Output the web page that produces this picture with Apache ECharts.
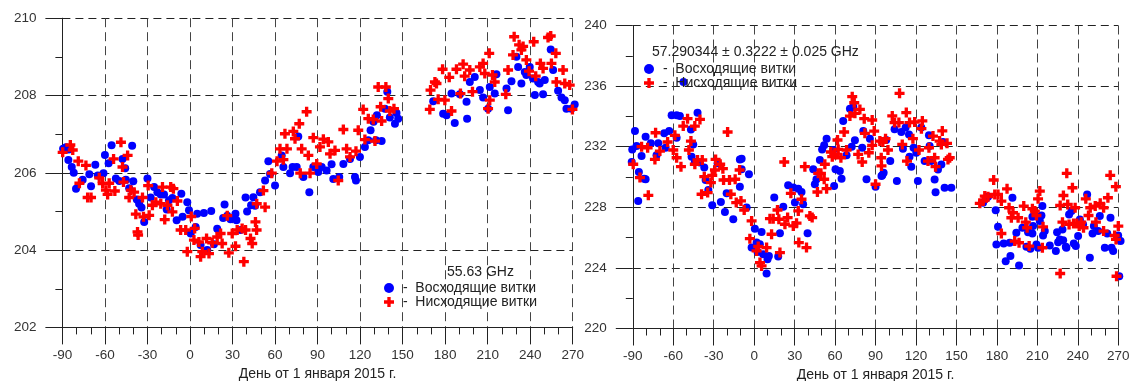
<!DOCTYPE html>
<html>
<head>
<meta charset="utf-8">
<script src="https://cdn.jsdelivr.net/npm/echarts@6/dist/echarts.min.js"></script>
<style>
html,body{margin:0;padding:0;background:#fff;}
#c{width:1131px;height:381px;}
</style>
</head>
<body>
<div id="c"></div>
<script>
// ---------- data ----------
const xTicks = { min: -90, max: 270, interval: 30 };
const leftY = { min: 202, max: 210, interval: 2 };
const rightY = { min: 220, max: 240, interval: 4 };

const nameUp = 'Восходящие витки';
const nameDown = 'Нисходящие витки';
const leftTitle = '55.63 GHz';
const rightTitle = '57.290344 ± 0.3222 ± 0.025 GHz';
const xName = 'День от 1 января 2015 г.';

// Left panel, ascending (blue)
const leftUp = [
[-89.5,206.62],[-87.5,206.66],[-85.5,206.6],[-85.8,206.33],[-83.4,206.15],[-82,206.0],[-80.4,205.59],[-75.7,205.82],[-71,205.96],[-69.8,205.65],
[-66.8,206.21],[-65,205.93],[-61,205.99],[-60,206.46],[-57.4,206.25],[-55.3,206.71],[-47.6,206.36],[-45.7,206.12],[-40.8,206.7],[-52.3,205.85],
[-49.9,205.79],[-45.2,205.82],[-40,205.78],[-42.9,205.6],[-37.5,205.31],[-35.9,205.2],[-34.2,205.1],[-32.3,204.73],[-30,205.85],[-27.7,205.36],
[-25.3,205.63],[-23,205.5],[-20.6,205.44],[-18.3,205.44],[-16.4,205.05],[-14.8,205.29],[-12.4,205.35],[-9.4,204.77],[-6.1,205.46],[-5.2,204.86],
[-1.9,205.24],[-0.7,205.03],[0.5,204.43],[4,204.6],[5.1,204.94],[7.5,204.13],[9.8,204.96],[12.2,204.0],[15,205.01],[16.9,204.15],
[19.2,204.55],[23.4,204.83],[24.4,205.18],[26.3,204.89],[28.6,204.8],[32.1,204.94],[32.8,204.77],[35.6,204.52],[39.2,205.36],[40.3,205.0],
[43.1,205.16],[44.7,205.37],[45.9,205.15],[49.4,205.5],[53,205.8],[55.3,206.3],[56.5,205.97],[60,205.67],[64.7,206.45],[65.9,206.15],
[70.6,205.99],[72.4,206.15],[75.3,206.15],[76.4,206.94],[80,205.89],[84.2,205.5],[87,206.15],[90.5,206.02],[92.9,206.15],[96.4,206.06],
[99.9,206.22],[101.1,205.84],[105.3,205.89],[108.2,206.23],[112.9,206.36],[116.4,205.89],[117.1,205.8],[119.9,206.41],[123.4,206.67],[125.8,206.84],
[127.4,207.1],[131.2,206.84],[135.2,206.82],[129.5,207.32],[131.9,207.49],[137.5,207.66],[139.2,208.1],[141,207.43],[144.6,207.27],[146.9,207.4],
[145.7,207.55],[171.6,207.85],[178.6,207.53],[181,207.49],[184.5,208.05],[186.8,207.29],[190.4,208.03],[195.1,207.84],[195.5,207.4],[197.4,208.35],
[200.9,208.48],[204.5,208.14],[206.8,207.95],[210.3,207.66],[211.5,208.22],[215,208.05],[216.2,208.55],[223.3,208.18],[224.4,207.62],[226.8,208.37],
[230.3,209.0],[231.5,208.74],[233.8,208.31],[236.2,208.61],[237.3,208.53],[239.7,208.74],[242,208.44],[243.3,208.01],[245.6,208.35],[246.7,208.31],
[249.1,208.03],[250.3,208.4],[254.5,209.19],[256.2,208.66],[259.7,208.12],[262.1,207.95],[264.4,207.88],[265.6,207.66],[269.1,207.66],[271.4,207.77]
];

// Left panel, descending (red)
const leftDown = [
[-89.8,206.53],[-84.4,206.72],[-82.7,206.59],[-78.8,206.3],[-73.4,206.19],[-78,205.73],[-72.2,205.36],[-69.8,205.36],[-64,205.87],[-61.6,205.72],
[-59.3,205.55],[-58.1,205.44],[-57,205.73],[-53,205.53],[-53.9,206.36],[-48.7,206.79],[-47.6,206.15],[-44,206.45],[-46.9,205.76],[-42.9,205.36],
[-41.7,205.55],[-39.4,205.5],[-38.2,204.93],[-37,204.47],[-36.6,204.39],[-33.5,205.36],[-32.8,204.86],[-28.8,204.9],[-29.5,205.67],[-26.5,205.16],
[-24.1,205.24],[-20.6,205.2],[-19.4,205.63],[-17.8,204.79],[-15.9,205.16],[-13.6,205.63],[-11.7,205.59],[-12.4,204.99],[-8.9,205.27],[-6.6,204.52],
[-3,204.52],[-1.9,203.96],[0.9,204.87],[3.3,204.56],[2.8,204.26],[7.5,203.83],[6.3,204.21],[8.7,203.96],[11.7,204.3],[13.4,203.91],
[15.7,204.19],[19.2,204.34],[21.6,204.43],[22.7,204.17],[26.3,204.89],[27.4,203.93],[29.8,204.43],[32.1,204.1],[33.3,204.52],[36.8,204.56],
[38,203.7],[39.2,204.52],[42.7,204.3],[43.9,204.17],[46.2,204.73],[47,204.52],[47.1,205.2],[51.8,205.54],[53,205.11],[57.7,205.99],
[61.4,206.3],[63.5,206.62],[65.9,206.34],[67,207.01],[68.4,206.62],[72.9,207.07],[77.1,207.27],[77.8,205.99],[82.3,207.58],[74.1,206.88],
[78.8,206.62],[83.5,206.45],[84.7,205.99],[87,206.91],[89.4,206.23],[91.7,206.67],[94.1,206.87],[97.6,206.8],[98.8,206.49],[102.3,206.58],
[104.6,205.8],[108.2,207.12],[110.5,206.62],[112.9,206.41],[117.1,206.56],[118.7,207.1],[122.2,207.64],[123.4,206.86],[125.8,207.4],[129.3,207.38],
[130.5,206.82],[132.8,208.22],[135.2,207.34],[134.5,207.71],[138.2,208.22],[139.9,207.92],[141,207.6],[143.9,207.66],[169.2,207.64],[169.7,208.14],
[172.8,208.35],[173.9,208.31],[175.1,207.9],[178.2,208.68],[179.8,207.88],[182.9,208.47],[184.5,207.6],[188,208.68],[190.8,208.05],[192.7,208.81],
[193.8,208.5],[197.4,208.66],[199.3,208.1],[204.5,208.74],[206.8,208.83],[208,208.57],[211.1,209.09],[210.3,207.66],[211.5,207.88],[213.4,208.53],
[215,208.35],[222.8,208.03],[224.4,208.66],[227.9,209.05],[228.7,209.52],[232.2,209.31],[233.8,209.18],[235,209.27],[237.3,208.92],[239.2,208.63],
[242.5,209.39],[243.9,208.5],[247.2,208.83],[249.1,208.7],[252.6,209.5],[254.5,209.54],[255,208.83],[258.1,209.09],[258.5,208.35],[263.2,208.66],
[264.4,208.31],[267.9,208.27],[269.8,207.64]
];

// Right panel, ascending (blue)
const rightUp = [
[-90.8,230.99],[-90.4,231.82],[-88.4,233.03],[-87.2,232.04],[-86,228.42],[-85.5,230.33],[-83.5,231.38],[-81.5,229.89],[-80.5,229.85],[-80.5,232.66],
[-76.6,232.22],[-72.4,231.43],[-71.1,232.22],[-66.7,232.88],[-65.7,231.93],[-63,233.03],[-61.2,234.07],[-57.5,234.07],[-55.1,234.02],[-57.5,232.59],
[-52.4,236.27],[-46.9,233.14],[-45.2,232.15],[-42,234.24],[-46.4,231.34],[-44,230.99],[-40.2,230.95],[-37,230.62],[-36,229.8],[-34,229.14],
[-31.1,228.13],[-27.1,230.9],[-24.7,228.35],[-21.7,227.69],[-20.4,228.92],[-15.5,227.21],[-10.6,231.16],[-9.3,231.21],[-10.6,229.36],[-9.3,230.51],
[-3.9,230.18],[-5.6,227.98],[0.5,226.59],[1.8,225.67],[5.5,226.37],[-1.9,225.34],[2.5,225.05],[4.2,225.56],[6.7,224.9],[9.9,224.57],
[10.9,224.79],[9.2,223.63],[14.9,228.64],[17.8,224.75],[19.1,226.29],[21.6,228.04],[25.2,229.45],[29,229.3],[30.2,228.31],[32.7,229.23],
[35.1,229.01],[36.3,228.2],[39.6,226.29],[43.8,230.51],[45,229.52],[46.2,229.85],[48.7,231.12],[50.4,231.82],[51.9,232.09],[53.7,232.53],
[58.6,231.78],[59.3,229.41],[60.3,230.51],[63.5,230.4],[64.8,229.89],[66,233.69],[68.5,231.43],[71,234.5],[73.5,234.64],[72.3,232.0],
[74.7,232.42],[80.1,231.93],[80.9,233.03],[83.3,229.85],[85.8,232.53],[90,229.36],[94.4,230.07],[97.9,232.44],[95,230.11],[96,230.28],
[100.9,231.05],[104.1,233.15],[105.8,229.73],[109.1,232.97],[110.3,231.87],[112.3,233.26],[114.8,232.81],[115.2,231.34],[116.5,230.68],[118.2,231.93],
[120.2,231.6],[121.4,229.73],[123.9,233.26],[126.4,231.05],[129.6,232.75],[130.1,232.04],[131.3,231.05],[133.8,229.84],[134.5,229.0],[136.3,230.5],
[138.8,230.83],[140,232.31],[141.2,229.29],[146.2,229.29],[169.7,228.3],[171.7,228.56],[173.4,228.7],[179.1,227.81],[180.8,226.71],[179.6,225.55],
[185,225.61],[186.5,224.44],[190,224.78],[191.5,228.63],[189.5,225.66],[194.4,226.32],[196.4,224.16],[198.9,226.65],[201.9,225.39],[203.1,226.36],
[204.8,225.26],[206.3,227.37],[206.8,226.76],[206.3,226.27],[209.3,225.55],[210.5,225.33],[211.8,227.09],[213.7,228.08],[214.2,226.14],[215.5,226.43],
[219.2,225.48],[223.7,225.11],[224.6,226.36],[225.4,225.7],[226.6,225.88],[229.1,225.83],[228.6,226.54],[231.1,225.39],[231.5,225.33],[233.5,227.53],
[235.3,227.75],[237,225.61],[238.5,225.44],[240.2,226.1],[241.5,227.2],[243.9,226.87],[246.9,228.85],[248.9,224.67],[250.9,226.27],[251.9,226.76],
[255.1,226.43],[256.3,227.42],[260,225.33],[261.8,226.27],[264.2,227.31],[265,225.33],[266.2,225.11],[269.9,226.14],[271.7,225.77],[270.7,223.45],
[213,227.46]
];

// Right panel, descending (red)
const rightDown = [
[-89.7,230.84],[-84.7,229.96],[-83.5,232.0],[-79,231.93],[-78.5,228.79],[-73.1,232.92],[-73.6,231.16],[-69.9,231.71],[-64.2,232.31],[-60,231.78],
[-58.8,232.75],[-57.5,231.27],[-54.3,230.68],[-52.6,233.36],[-49.4,233.85],[-48.4,231.78],[-46.9,232.37],[-44,233.36],[-40.2,233.8],[-44,230.84],
[-42,231.12],[-38.5,231.12],[-37,230.02],[-39,228.86],[-34.5,228.97],[-32.1,229.63],[-31.1,230.11],[-29.1,230.46],[-28.6,231.16],[-25.2,230.84],
[-23.2,230.55],[-22.7,229.8],[-19.7,232.97],[-18.3,229.8],[-17.3,228.86],[-14.1,229.85],[-13.3,228.31],[-10.8,230.46],[-9.8,228.42],[-7.4,227.82],
[-1.9,227.1],[-3.2,225.93],[1.8,225.12],[3,225.41],[4.3,224.35],[5.5,224.13],[9.2,225.34],[11.7,227.25],[12.9,226.22],[14.1,227.25],
[17.3,227.82],[18.3,227.21],[19.1,225.01],[22.3,230.99],[22.8,226.88],[24.8,227.32],[27.2,228.92],[29,226.77],[31.4,226.95],[32.7,227.76],
[33.1,225.67],[35.1,228.53],[37.6,230.68],[38.8,225.34],[41.3,227.43],[43,227.32],[46.9,229.01],[47.5,230.24],[49.5,230.24],[51.9,229.85],
[52.4,230.84],[53.7,229.23],[56.9,231.65],[57.9,231.34],[59.8,231.49],[61.8,232.44],[62.3,231.82],[64.3,231.27],[66.7,232.97],[68.5,231.78],
[71,234.02],[72.7,235.3],[74.2,234.9],[74.7,234.2],[77.1,231.49],[78.4,234.46],[80.1,230.99],[81.6,233.85],[82.1,232.88],[85,231.6],
[87.5,233.76],[89,233.03],[87.5,232.09],[90,229.52],[93.2,232.37],[94.4,230.73],[95.4,232.31],[97.4,232.53],[99.2,231.78],[94.2,231.27],
[102.4,234.03],[104.1,233.59],[107.3,233.59],[107.8,235.52],[109.8,232.15],[112.8,234.25],[113.3,231.05],[115.2,233.59],[117.7,232.53],[119,233.63],
[122.2,231.78],[124,233.19],[124.7,233.7],[128.9,231.05],[129.6,231.93],[132.6,232.7],[133.8,231.27],[134.5,230.68],[137.5,232.37],[138.8,232.15],
[139.5,233.04],[143,232.22],[143.7,231.16],[145,231.27],[167.3,228.26],[169.7,228.41],[171,228.74],[173.4,228.7],[177.6,229.8],[178.4,228.85],
[180.8,228.85],[183.3,228.41],[183.3,226.27],[187.5,229.22],[189,227.97],[190.7,227.31],[191.9,227.64],[193.2,225.77],[195.7,227.31],[196.4,225.66],
[199.9,228.08],[201.4,227.02],[202.4,226.65],[203.9,225.44],[206.3,227.9],[208.1,227.75],[209.3,227.46],[210.5,228.56],[211.8,229.07],[213.7,225.33],
[214.2,226.71],[226.9,228.12],[226.9,223.63],[228.6,227.02],[229.3,228.78],[231.8,230.24],[232.5,228.19],[233.5,226.87],[236,229.29],[236.8,226.93],
[238,227.97],[239.2,226.93],[241,226.76],[242.5,227.02],[244.2,226.65],[245.9,228.56],[247.9,227.46],[249.2,227.97],[252.9,228.08],[253.4,227.02],
[256.6,228.26],[259.1,227.97],[259.1,226.43],[262.3,228.63],[264,230.11],[267.3,226.14],[268.3,225.88],[268.2,229.36],[270,226.76],[268.7,223.45]
];

// ---------- chart ----------
const FONT = '"Liberation Sans", Arial, sans-serif';
const BLUE = '#0000ff', RED = '#ff0000';
const CROSS = 'path://M3,0H6V3H9V6H6V9H3V6H0V3H3Z';

function xAxis(gridIndex) {
  return {
    type: 'value', gridIndex, min: xTicks.min, max: xTicks.max, interval: xTicks.interval,
    name: xName, nameLocation: 'middle', nameGap: 35,
    nameTextStyle: { fontFamily: FONT, fontSize: 14, color: '#222' },
    axisLine: { show: true, onZero: false, lineStyle: { color: '#222', width: 1 } },
    axisTick: { show: true, inside: false, length: 17, lineStyle: { color: '#222' } },
    minorTick: { show: true, splitNumber: 3, length: 7, lineStyle: { color: '#222' } },
    axisLabel: { fontFamily: FONT, fontSize: 13.5, color: '#333', margin: 21 },
    splitLine: { show: true, lineStyle: { color: '#444', type: [9, 5], width: 1 } }
  };
}
function yAxis(gridIndex, cfg) {
  return {
    type: 'value', gridIndex, min: cfg.min, max: cfg.max, interval: cfg.interval,
    axisLine: { show: true, onZero: false, lineStyle: { color: '#222', width: 1 } },
    axisTick: { show: true, inside: false, length: 17, lineStyle: { color: '#222' } },
    minorTick: { show: true, splitNumber: 2, length: 7, lineStyle: { color: '#222' } },
    axisLabel: { fontFamily: FONT, fontSize: 13.5, color: '#333', margin: 26 },
    splitLine: { show: true, lineStyle: { color: '#222', type: [8, 5], width: 1 } }
  };
}
function scatter(name, data, xi, color, symbol, size) {
  return {
    type: 'scatter', name, data, xAxisIndex: xi, yAxisIndex: xi,
    symbol, symbolSize: size, clip: false,
    itemStyle: { color, opacity: 1 },
    emphasis: { disabled: true }
  };
}
function legend(left, top) {
  return {
    left, top, orient: 'vertical', padding: 0, itemGap: 0,
    itemWidth: 10, itemHeight: 10,
    data: [{ name: nameUp, icon: 'circle' }, { name: nameDown, icon: CROSS }],
    formatter: ' -  {name}',
    textStyle: { fontFamily: FONT, fontSize: 14, color: '#222', lineHeight: 14 },
    selectedMode: false
  };
}

const chart = echarts.init(document.getElementById('c'), null, { renderer: 'canvas' });
chart.setOption({
  animation: false,
  backgroundColor: '#fff',
  title: [
    { text: leftTitle, left: 447, top: 265, padding: 0,
      textStyle: { fontFamily: FONT, fontSize: 14, fontWeight: 'normal', color: '#222' } },
    { text: rightTitle, left: 652, top: 45, padding: 0,
      textStyle: { fontFamily: FONT, fontSize: 14, fontWeight: 'normal', color: '#222' } }
  ],
  legend: [legend(384, 281), legend(644, 62)],
  grid: [
    { left: 62.4, top: 18.2, width: 510.3, height: 309.2, containLabel: false, outerBoundsMode: 'none' },
    { left: 632.8, top: 25.5, width: 485.5, height: 303, containLabel: false, outerBoundsMode: 'none' }
  ],
  xAxis: [xAxis(0), xAxis(1)],
  yAxis: [yAxis(0, leftY), yAxis(1, rightY)],
  series: [
    scatter(nameUp, leftUp, 0, BLUE, 'circle', 8),
    scatter(nameDown, leftDown, 0, RED, CROSS, 10),
    scatter(nameUp, rightUp, 1, BLUE, 'circle', 8),
    scatter(nameDown, rightDown, 1, RED, CROSS, 10)
  ]
});
</script>
</body>
</html>
